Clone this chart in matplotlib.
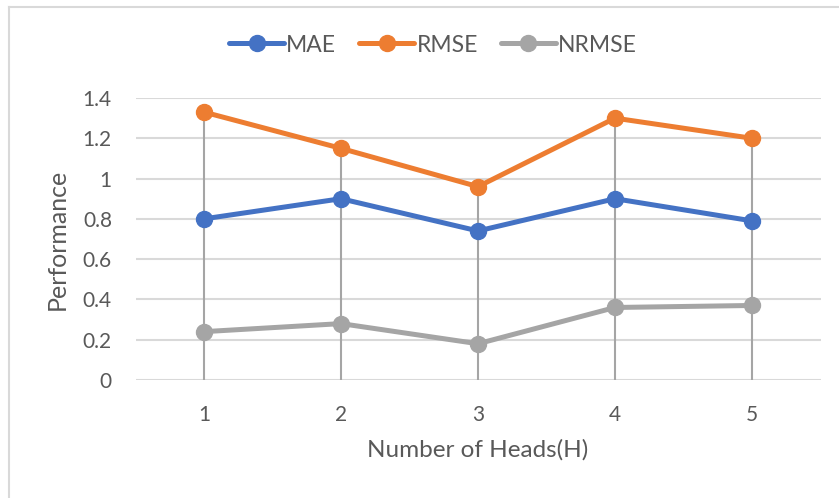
import numpy as np
import matplotlib.pyplot as plt
from matplotlib.lines import Line2D
from matplotlib.ticker import FormatStrFormatter

heads = [1, 2, 3, 4, 5]
mae = [0.80, 0.90, 0.74, 0.90, 0.79]
rmse = [1.33, 1.15, 0.96, 1.30, 1.20]
nrmse = [0.24, 0.28, 0.18, 0.36, 0.37]
y_ticks = [0, 0.2, 0.4, 0.6, 0.8, 1.0, 1.2, 1.4]

colors = {"MAE": "#4472C4", "RMSE": "#ED7D31", "NRMSE": "#A5A5A5"}
text_color = "#595959"

plt.rcParams['font.family'] = ['Lato', 'DejaVu Sans']

fig = plt.figure(figsize=(8.39, 4.98), dpi=100)
W, H = 839, 498
ax = fig.add_axes([135.5 / W, (H - 380) / H, (820.5 - 135.5) / W, (380 - 98) / H])

# chart border (only top and left edges fall inside the image)
fig.add_artist(Line2D([8.5 / W, 8.5 / W], [0, 1 - 7.5 / H], transform=fig.transFigure,
                      color="#D9D9D9", lw=1.5))
fig.add_artist(Line2D([8.5 / W, 1], [1 - 7.5 / H, 1 - 7.5 / H], transform=fig.transFigure,
                      color="#D9D9D9", lw=1.5))

# drop lines from the highest point down to the axis
tops = np.max([mae, rmse, nrmse], axis=0)
ax.vlines(heads, 0, tops, color="#A5A5A5", lw=1.5, zorder=2)

for name, vals in [("MAE", mae), ("RMSE", rmse), ("NRMSE", nrmse)]:
    ax.plot(heads, vals, color=colors[name], lw=3.6, marker="o", ms=11.5,
            label=name, zorder=3, solid_capstyle="round")

ax.set_xlim(0.5, 5.5)
ax.set_ylim(0, 1.4)
ax.set_xticks(heads)
ax.set_yticks(y_ticks)
ax.yaxis.set_major_formatter(FormatStrFormatter('%g'))
ax.grid(axis="y", color="#D9D9D9", lw=1.5, zorder=0)
ax.set_axisbelow(True)
for s in ax.spines.values():
    s.set_visible(False)
ax.tick_params(axis="both", length=0, labelsize=15, colors=text_color)
ax.tick_params(axis="y", pad=17)
ax.tick_params(axis="x", pad=18)

ax.set_xlabel("Number of Heads(H)", fontsize=17.5, color=text_color, labelpad=10)
ax.set_ylabel("Performance", fontsize=18, color=text_color, labelpad=10)

leg = ax.legend(loc="center", bbox_to_anchor=(433 / W, 1 - 45 / H),
                bbox_transform=fig.transFigure, ncol=3, frameon=False,
                fontsize=16.5, handlelength=2.4, columnspacing=1.0, handletextpad=0.1)
for t in leg.get_texts():
    t.set_color(text_color)

fig.savefig("out.png", dpi=100, facecolor="white")
